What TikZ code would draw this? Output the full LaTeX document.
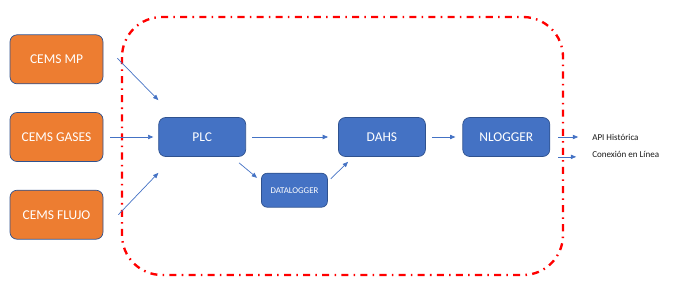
\documentclass[tikz,border=0pt]{standalone}
\usepackage{fontspec}
\setmainfont{Carlito}
\usetikzlibrary{arrows.meta, positioning}
\definecolor{cemsorange}{HTML}{ED7D31}
\definecolor{nodeblue}{HTML}{4472C4}
\definecolor{edgeblue}{HTML}{2F528F}
\definecolor{framered}{HTML}{FF0000}
\begin{document}
\begin{tikzpicture}[
    node distance=0.84cm and 1.65cm,
    orangebox/.style={rectangle, rounded corners=6pt, draw=edgeblue, line width=0.6pt, fill=cemsorange, text=white, minimum width=2.79cm, minimum height=1.47cm, align=center, font=\fontsize{11.5}{13}\selectfont},
    bluebox/.style={rectangle, rounded corners=6pt, draw=edgeblue, line width=0.6pt, fill=nodeblue, text=white, minimum width=2.61cm, minimum height=1.17cm, align=center, font=\fontsize{11.5}{13}\selectfont},
    smallbox/.style={rectangle, rounded corners=5pt, draw=edgeblue, line width=0.6pt, fill=nodeblue, text=white, minimum width=1.98cm, minimum height=1.02cm, align=center, font=\fontsize{7.5}{9}\selectfont},
    labeltext/.style={anchor=west, font=\fontsize{7.7}{9}\selectfont, text=black!90},
    arrow/.style={-{Triangle[length=1.6mm, width=1.3mm]}, line width=0.6pt, draw=nodeblue},
    frame/.style={draw=framered, line width=2pt, rounded corners=1.2cm, dash pattern=on 6pt off 4.5pt on 1.3pt off 4.5pt}
]

\useasboundingbox (0,0) rectangle (20.19,-9);

\draw[frame] (3.66,-0.51) rectangle (16.89,-8.25);

\node[orangebox] at (1.695,-4.11) (gases) {CEMS GASES};
\node[orangebox, above=of gases] (mp) {CEMS MP};
\node[orangebox, below=of gases] (flujo) {CEMS FLUJO};

\node[bluebox, right=of gases] (plc) {PLC};
\node[bluebox, right=2.76cm of plc] (dahs) {DAHS};
\node[bluebox, right=1.1cm of dahs] (nlogger) {NLOGGER};
\node[smallbox, below right=0.48cm and 0.45cm of plc] (datalog) {DATALOGGER};

\node[labeltext, right=1.14cm of nlogger] (api) {API Histórica};
\node[labeltext] at ([yshift=-0.51cm]api.west) (conex) {Conexión en Línea};

\draw[arrow] ([xshift=0.42cm, yshift=0.03cm]mp.east) -- ([yshift=0.51cm]plc.north west);
\draw[arrow, shorten <=0.21cm, shorten >=0.15cm] (gases) -- (plc);
\draw[arrow] ([xshift=0.45cm]flujo.east) -- ([yshift=-0.48cm]plc.south west);
\draw[arrow, shorten <=0.18cm, shorten >=0.3cm] (plc) -- (dahs);
\draw[arrow] ([xshift=-0.21cm, yshift=-0.18cm]plc.south east) -- ([xshift=-0.12cm, yshift=-0.15cm]datalog.north west);
\draw[arrow] ([xshift=0.09cm, yshift=-0.18cm]datalog.north east) -- ([xshift=0.3cm, yshift=-0.15cm]dahs.south west);
\draw[arrow, shorten <=0.18cm, shorten >=0.21cm] (dahs) -- (nlogger);
\draw[arrow, shorten <=0.24cm, shorten >=0.3cm] (nlogger) -- (api);
\draw[arrow, shorten <=0.24cm, shorten >=0.36cm] (nlogger.south east) -- (nlogger.south east -| conex.west);

\end{tikzpicture}
\end{document}
